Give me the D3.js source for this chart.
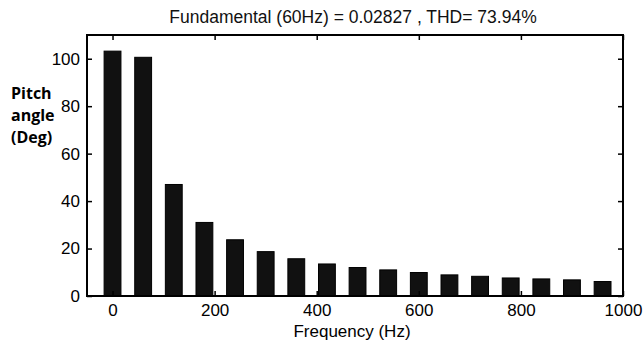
<!DOCTYPE html>
<html>
<head>
<meta charset="utf-8">
<script src="https://cdn.jsdelivr.net/npm/d3@7"></script>
<style>
  html, body { margin: 0; padding: 0; background: #fff; }
  svg { display: block; }
</style>
</head>
<body>
<svg id="chart" width="643" height="346"></svg>
<script>
// Harmonic spectrum of the pitch angle: bar per 60 Hz harmonic
const frequencies = [0, 60, 120, 180, 240, 300, 360, 420, 480, 540, 600, 660, 720, 780, 840, 900, 960];
const magnitudes = [103.2, 100.6, 47.0, 31.0, 23.7, 18.7, 15.7, 13.5, 12.0, 11.0, 9.9, 8.9, 8.3, 7.6, 7.2, 6.8, 6.1];
const xTicks = [0, 200, 400, 600, 800, 1000];
const yTicks = [0, 20, 40, 60, 80, 100];
const titleText = "Fundamental (60Hz) = 0.02827 , THD= 73.94%";
const xLabel = "Frequency (Hz)";
const yLabelLines = ["Pitch", "angle", "(Deg)"];

const svg = d3.select("#chart");
const plot = { left: 87, right: 623, top: 35, bottom: 296 };
const tickLen = 5;
const barWidthHz = 33;

const x = d3.scaleLinear().domain([-50, 1000]).range([plot.left, plot.right]);
const y = d3.scaleLinear().domain([0, 110]).range([plot.bottom, plot.top]);

const tickFont = "17px 'Liberation Sans', Arial, sans-serif";

// bars
svg.append("g")
  .selectAll("rect")
  .data(frequencies)
  .join("rect")
  .attr("x", (f) => x(f - barWidthHz / 2))
  .attr("width", (f) => x(f + barWidthHz / 2) - x(f - barWidthHz / 2))
  .attr("y", (f, i) => y(magnitudes[i]))
  .attr("height", (f, i) => y(0) - y(magnitudes[i]))
  .attr("fill", "#111")
  .attr("stroke", "#000")
  .attr("stroke-width", 1);

// bottom axis with inward ticks
const xAxis = d3.axisBottom(x).tickValues(xTicks).tickFormat(d3.format("d"))
  .tickSizeInner(-tickLen).tickSizeOuter(0).tickPadding(8);
const gx = svg.append("g").attr("transform", `translate(0,${plot.bottom})`).call(xAxis);
gx.select(".domain").remove();
gx.selectAll("text").style("font", tickFont).attr("fill", "#000");

// top ticks
const gxt = svg.append("g").attr("transform", `translate(0,${plot.top})`)
  .call(d3.axisTop(x).tickValues(xTicks).tickSizeInner(-tickLen).tickSizeOuter(0).tickFormat(""));
gxt.select(".domain").remove();

// left axis with inward ticks
const yAxis = d3.axisLeft(y).tickValues(yTicks).tickFormat(d3.format("d"))
  .tickSizeInner(-tickLen).tickSizeOuter(0).tickPadding(7);
const gy = svg.append("g").attr("transform", `translate(${plot.left},0)`).call(yAxis);
gy.select(".domain").remove();
gy.selectAll("text").style("font", tickFont).attr("fill", "#000");

// right ticks
const gyr = svg.append("g").attr("transform", `translate(${plot.right},0)`)
  .call(d3.axisRight(y).tickValues(yTicks).tickSizeInner(-tickLen).tickSizeOuter(0).tickFormat(""));
gyr.select(".domain").remove();

svg.selectAll(".tick line").attr("stroke", "#000").attr("stroke-width", 1.5);

// frame
svg.append("rect")
  .attr("x", plot.left).attr("y", plot.top)
  .attr("width", plot.right - plot.left).attr("height", plot.bottom - plot.top)
  .attr("fill", "none").attr("stroke", "#000").attr("stroke-width", 2);

// title
svg.append("text")
  .attr("x", 353).attr("y", 23)
  .attr("text-anchor", "middle")
  .style("font", "17.5px 'Liberation Sans', Arial, sans-serif")
  .attr("fill", "#111")
  .text(titleText);

// x label
svg.append("text")
  .attr("x", 352).attr("y", 337)
  .attr("text-anchor", "middle")
  .style("font", tickFont)
  .text(xLabel);

// y label, three bold lines
svg.append("g")
  .selectAll("text")
  .data(yLabelLines)
  .join("text")
  .attr("x", 11)
  .attr("y", (d, i) => 99 + i * 22)
  .style("font", "bold 16px 'Open Sans', Lato, sans-serif")
  .text((d) => d);
</script>
</body>
</html>
